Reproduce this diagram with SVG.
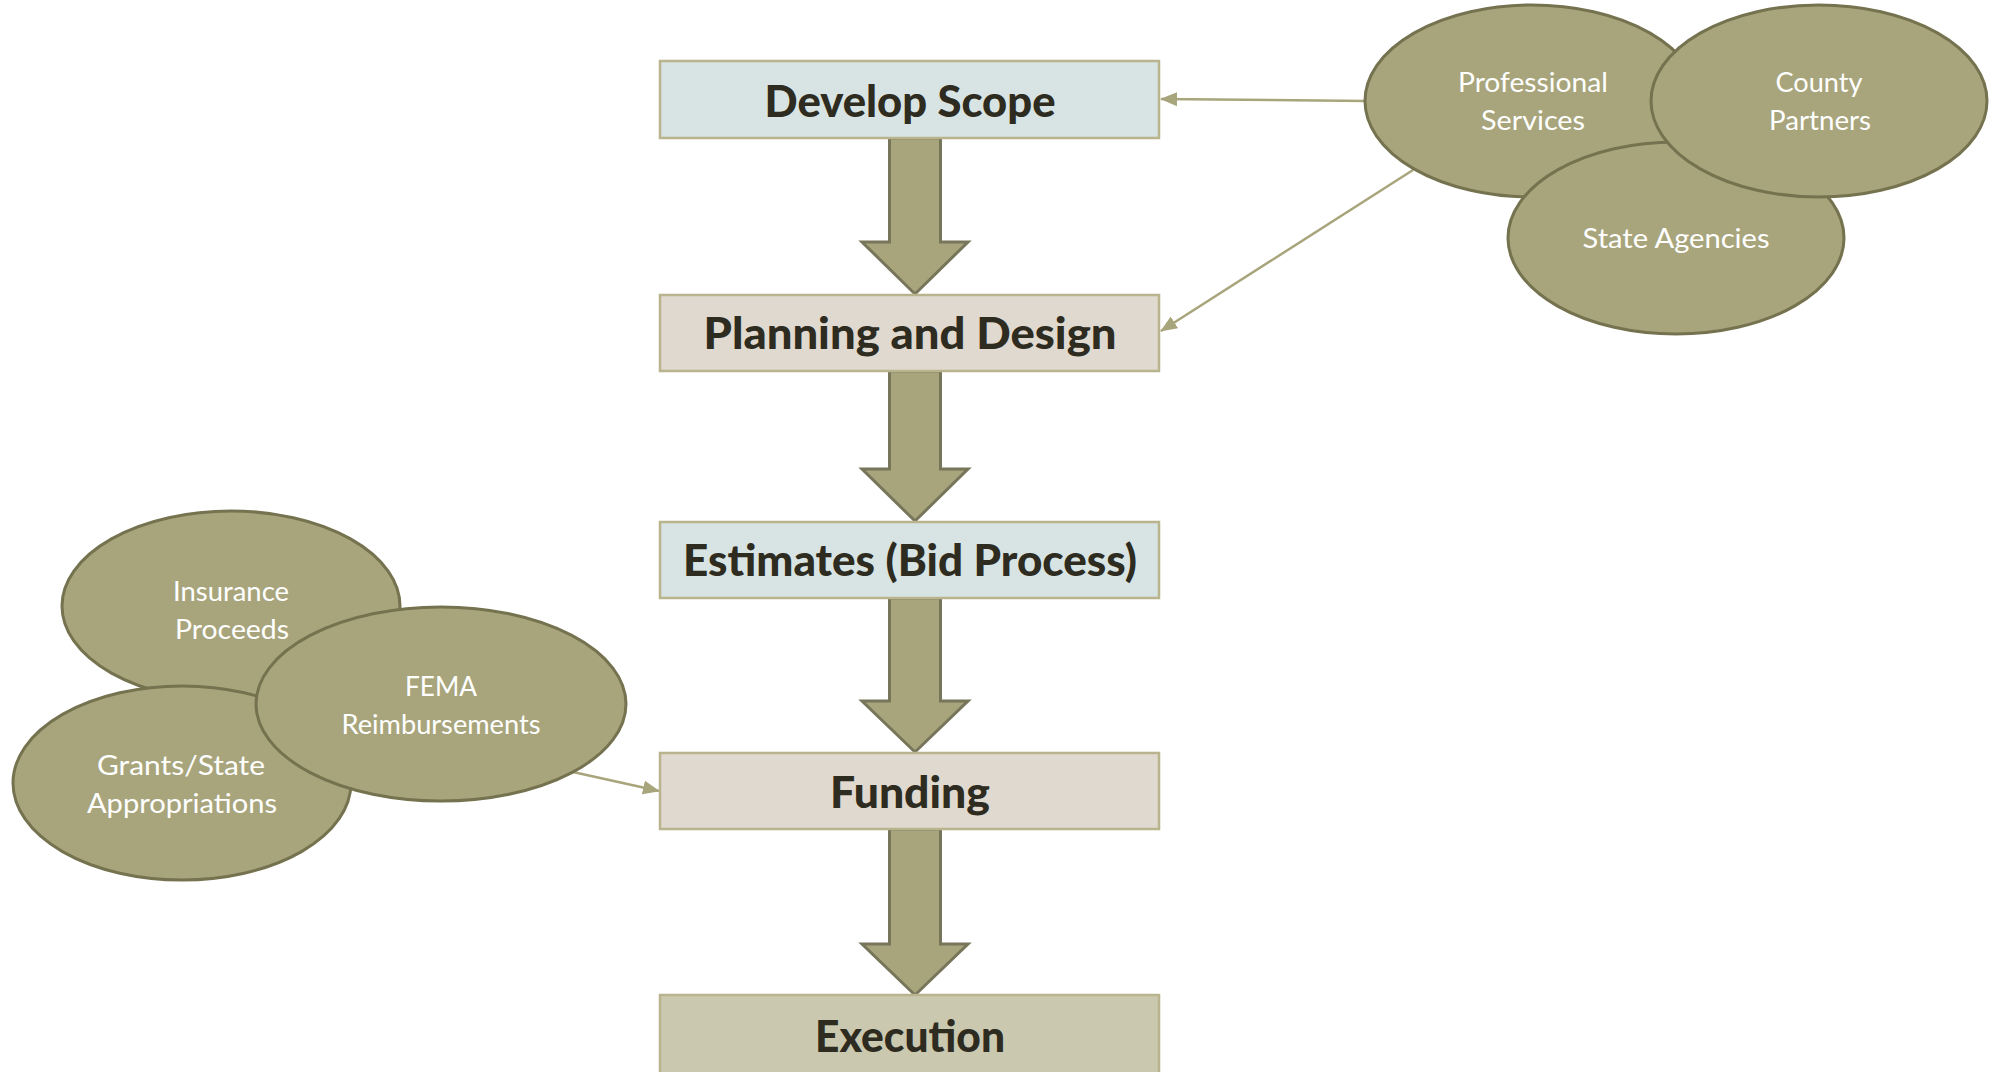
<svg xmlns="http://www.w3.org/2000/svg" width="2000" height="1072" viewBox="0 0 2000 1072">
<style>
.box{stroke:#b9b48e;stroke-width:2.5}
.b1{fill:#d8e4e3}
.b2{fill:#e0d9cf}
.b3{fill:#cac9b0}
.bt{font-family:Lato,"Liberation Sans",sans-serif;font-weight:900;font-size:44px;fill:#2e2b20;text-anchor:middle}
.el{fill:#a8a57c;stroke:#75724f;stroke-width:3}
.et{font-family:Lato,"Liberation Sans",sans-serif;font-size:26px;fill:#ffffff;text-anchor:middle}
.big{fill:#a8a57c;stroke:#77755a;stroke-width:3}
.con{stroke:#a8a57c;stroke-width:2.5;fill:none}
</style>
<defs>
<marker id="ah" markerUnits="userSpaceOnUse" markerWidth="18" markerHeight="14" refX="16" refY="7" orient="auto">
<path d="M0,0 L17,7 L0,14 Z" fill="#a8a57c"/>
</marker>
</defs>
<rect width="2000" height="1072" fill="#ffffff"/>

<g id="connectors">
<polygon class="big" points="889.5,138 940.5,138 940.5,242 968,242 915,294 862,242 889.5,242"/>
<polygon class="big" points="889.5,371 940.5,371 940.5,469 968,469 915,521 862,469 889.5,469"/>
<polygon class="big" points="889.5,598 940.5,598 940.5,701 968,701 915,752 862,701 889.5,701"/>
<polygon class="big" points="889.5,829 940.5,829 940.5,944 968,944 915,995 862,944 889.5,944"/>
<line class="con" x1="1366" y1="101" x2="1161" y2="99" marker-end="url(#ah)"/>
<line class="con" x1="1413" y1="170" x2="1161" y2="331" marker-end="url(#ah)"/>
<line class="con" x1="573" y1="772" x2="659" y2="791" marker-end="url(#ah)"/>
</g>

<g id="develop-scope">
<rect class="box b1" x="660" y="61" width="499" height="77"/>
<text class="bt" x="910" y="117" textLength="291" lengthAdjust="spacingAndGlyphs">Develop Scope</text>
</g>
<g id="planning-design">
<rect class="box b2" x="660" y="295" width="499" height="76"/>
<text class="bt" x="910" y="349" textLength="413" lengthAdjust="spacingAndGlyphs">Planning and Design</text>
</g>
<g id="estimates">
<rect class="box b1" x="660" y="522" width="499" height="76"/>
<text class="bt" x="910" y="576" textLength="454" lengthAdjust="spacingAndGlyphs">Estimates (Bid Process)</text>
</g>
<g id="funding">
<rect class="box b2" x="660" y="753" width="499" height="76"/>
<text class="bt" x="910" y="808" textLength="160" lengthAdjust="spacingAndGlyphs">Funding</text>
</g>
<g id="execution">
<rect class="box b3" x="660" y="995" width="499" height="90"/>
<text class="bt" x="910" y="1052" textLength="190" lengthAdjust="spacingAndGlyphs">Execution</text>
</g>

<g id="professional-services">
<ellipse class="el" cx="1532" cy="101" rx="167" ry="96"/>
<text class="et" x="1533" y="92" textLength="150" lengthAdjust="spacingAndGlyphs">Professional</text>
<text class="et" x="1533" y="130" textLength="104" lengthAdjust="spacingAndGlyphs">Services</text>
</g>
<g id="state-agencies">
<ellipse class="el" cx="1676" cy="238" rx="168" ry="96"/>
<text class="et" x="1676" y="248" textLength="187" lengthAdjust="spacingAndGlyphs">State Agencies</text>
</g>
<g id="county-partners">
<ellipse class="el" cx="1819" cy="101" rx="168" ry="96"/>
<text class="et" x="1819" y="92" textLength="87" lengthAdjust="spacingAndGlyphs">County</text>
<text class="et" x="1820" y="130" textLength="102" lengthAdjust="spacingAndGlyphs">Partners</text>
</g>

<g id="insurance-proceeds">
<ellipse class="el" cx="231" cy="606" rx="169" ry="95"/>
<text class="et" x="231" y="601" textLength="116" lengthAdjust="spacingAndGlyphs">Insurance</text>
<text class="et" x="232" y="639" textLength="114" lengthAdjust="spacingAndGlyphs">Proceeds</text>
</g>
<g id="grants-state">
<ellipse class="el" cx="182" cy="783" rx="169" ry="97"/>
<text class="et" x="181" y="775" textLength="168" lengthAdjust="spacingAndGlyphs">Grants/State</text>
<text class="et" x="182" y="813" textLength="190" lengthAdjust="spacingAndGlyphs">Appropriations</text>
</g>
<g id="fema-reimbursements">
<ellipse class="el" cx="441" cy="704" rx="185" ry="97"/>
<text class="et" x="441" y="696" textLength="72" lengthAdjust="spacingAndGlyphs">FEMA</text>
<text class="et" x="441" y="734" textLength="199" lengthAdjust="spacingAndGlyphs">Reimbursements</text>
</g>
</svg>
